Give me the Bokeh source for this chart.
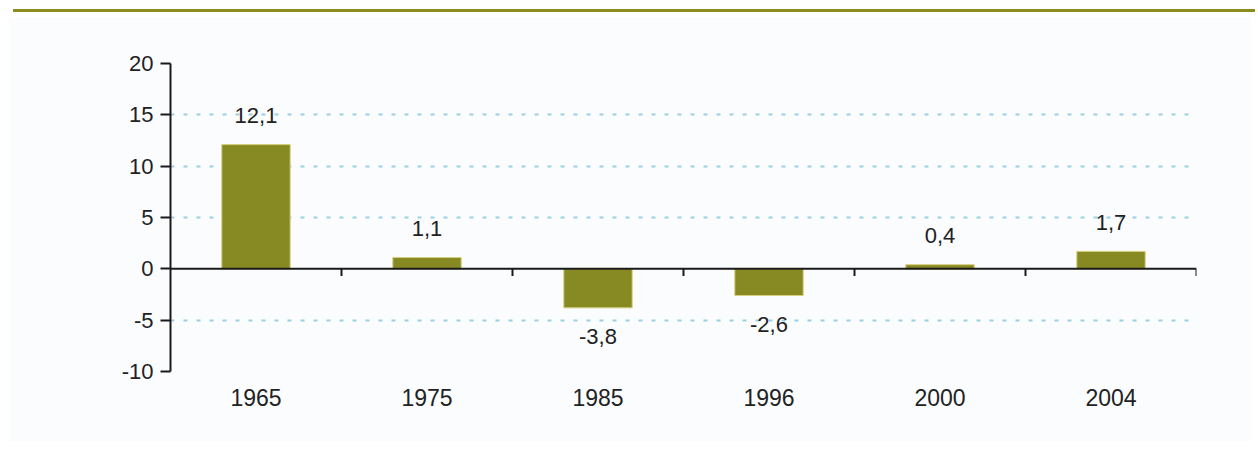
from bokeh.plotting import figure
from bokeh.models import ColumnDataSource, Span, Div, FixedTicker
from bokeh.layouts import column
from bokeh.transform import dodge
from bokeh.core.properties import value
from bokeh.embed import file_html
from bokeh.resources import INLINE

years = ["1965", "1975", "1985", "1996", "2000", "2004"]
values = [12.1, 1.1, -3.8, -2.6, 0.4, 1.7]
y_ticks = [-10, -5, 0, 5, 10, 15, 20]

labels = [f"{v:.1f}".replace(".", ",") for v in values]
offsets = [-29 if v >= 0 else 29 for v in values]

src = ColumnDataSource(dict(year=years, val=values, label=labels, off=offsets))

OLIVE = "#878a22"
BG = "#fbfcfd"
FONT = "Liberation Sans"

p = figure(x_range=years, y_range=(-10, 20), width=1242, height=424,
           output_backend="svg", toolbar_location=None,
           min_border_left=162, min_border_right=54,
           min_border_top=46, min_border_bottom=70)
p.background_fill_color = BG
p.border_fill_color = BG
p.outline_line_color = None

p.vbar(x="year", top="val", bottom=0, width=0.4, source=src,
       fill_color=OLIVE, line_color="#d8cf80", line_width=1)

p.add_layout(Span(location=0, dimension="width", line_color="#1a1a1a", line_width=2))
p.segment(x0=dodge("year", 0.5, range=p.x_range), y0=0,
          x1=dodge("year", 0.5, range=p.x_range), y1=-0.7,
          source=src, line_color="#1a1a1a", line_width=2)

p.text(x="year", y="val", text="label", y_offset="off", source=src,
       text_align="center", text_baseline="middle",
       text_font=value(FONT), text_font_size="22px", text_color="#222222")

p.xgrid.grid_line_color = None
p.ygrid.ticker = FixedTicker(ticks=[t for t in y_ticks if t != 0])
p.ygrid.grid_line_color = "#9ccfe6"
p.ygrid.grid_line_dash = "4 9"
p.ygrid.grid_line_width = 2

yax = p.yaxis[0]
yax.ticker = FixedTicker(ticks=y_ticks)
yax.major_label_overrides = {t: str(t) for t in y_ticks}
yax.axis_line_color = "#1a1a1a"
yax.axis_line_width = 2
yax.major_tick_line_color = "#1a1a1a"
yax.major_tick_line_width = 2
yax.major_tick_out = 10
yax.major_tick_in = 0
yax.minor_tick_line_color = None
yax.major_label_standoff = 7
yax.major_label_text_font = FONT
yax.major_label_text_font_size = "22px"
yax.major_label_text_color = "#222222"

xax = p.xaxis[0]
xax.axis_line_color = None
xax.major_tick_line_color = None
xax.minor_tick_line_color = None
xax.major_tick_out = 0
xax.major_tick_in = 0
xax.major_label_standoff = 17
xax.major_label_text_font = FONT
xax.major_label_text_font_size = "23px"
xax.major_label_text_color = "#222222"

top_line = Div(text="", width=1242, height=3,
               styles={"background-color": "#8c8c1e"})

layout = column(top_line, p, spacing=0, margin=(4, 0, 0, 8))

open("out.html", "w").write(file_html(layout, INLINE))
